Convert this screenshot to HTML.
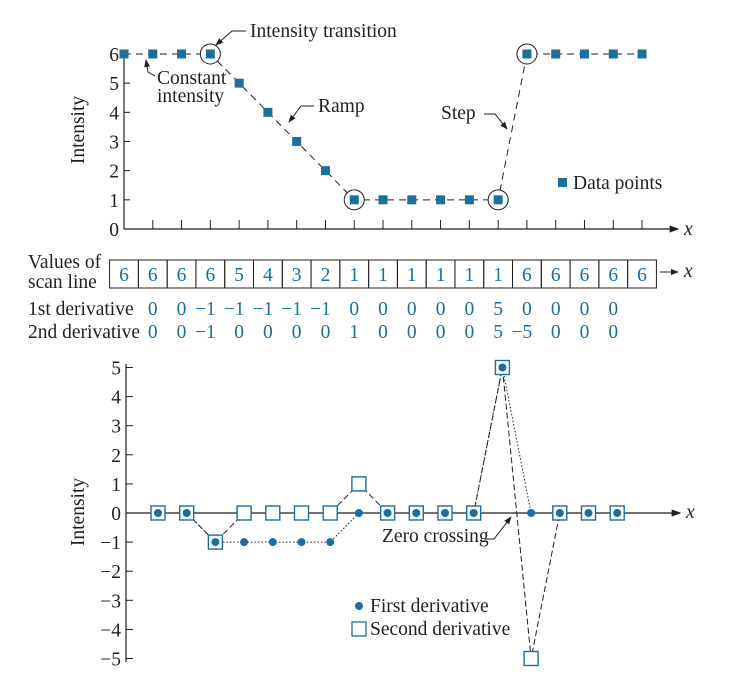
<!DOCTYPE html>
<html><head><meta charset="utf-8"><style>
body{margin:0;background:#fff}
svg{display:block;font-family:"Liberation Serif",serif}
.t{font-size:19.5px;fill:#231f20}
.b{font-size:19.5px;fill:#1a6f9e}
</style></head><body>
<svg id="fig" width="740" height="699" viewBox="0 0 740 699" xmlns="http://www.w3.org/2000/svg">
<defs><marker id="ah" markerWidth="8" markerHeight="6" refX="7" refY="3" orient="auto"><path d="M0,0 L8,3 L0,6 Z" fill="#231f20"/></marker></defs>
<g id="gtop"></g>
<g id="gtable"></g>
<g id="gbot"></g>
<g fill="none" stroke="#231f20" stroke-width="1">
<polyline points="246,31 232,31 216,45" marker-end="url(#ah)"/>
<polyline points="155,76 148,72 146,60" marker-end="url(#ah)"/>
<polyline points="314,106 301,106 289,122" marker-end="url(#ah)"/>
<polyline points="484,114 495,114 507,129" marker-end="url(#ah)"/>
<polyline points="484,539 494,539 511,517" marker-end="url(#ah)"/>
</g>
<text class="t" x="250" y="37">Intensity transition</text>
<text class="t" x="157" y="84">Constant</text>
<text class="t" x="157" y="102">intensity</text>
<text class="t" x="318" y="112">Ramp</text>
<text class="t" x="441" y="119">Step</text>
<rect x="558" y="178" width="9" height="9" fill="#1a6f9e"/>
<text class="t" x="573" y="189">Data points</text>
<text class="t" x="382" y="542">Zero crossing</text>
<circle cx="359" cy="606" r="4" fill="#1a6f9e"/>
<text class="t" x="370" y="612">First derivative</text>
<rect x="352" y="622" width="14" height="14" fill="none" stroke="#1a6f9e" stroke-width="1.3"/>
<text class="t" x="370" y="635">Second derivative</text>
<text class="t" x="84" y="130" transform="rotate(-90 84 130)" text-anchor="middle">Intensity</text>
<text class="t" x="84" y="512" transform="rotate(-90 84 512)" text-anchor="middle">Intensity</text>
<text class="t" x="28" y="268">Values of</text>
<text class="t" x="28" y="288">scan line</text>
<text class="t" x="28" y="315">1st derivative</text>
<text class="t" x="28" y="338">2nd derivative</text>
</svg>
<script>
const scanValues=[6,6,6,6,5,4,3,2,1,1,1,1,1,1,6,6,6,6,6];
const firstDeriv=[0,0,-1,-1,-1,-1,-1,0,0,0,0,0,5,0,0,0,0];
const secondDeriv=[0,0,-1,0,0,0,0,1,0,0,0,0,5,-5,0,0,0];
const topTicks=[0,1,2,3,4,5,6];
const botTicks=[5,4,3,2,1,0,-1,-2,-3,-4,-5];
const circled=[3,8,13,14];

const NS="http://www.w3.org/2000/svg";
const BLUE="#1a6f9e",INK="#231f20";
function mk(parent,tag,attrs,txt){const e=document.createElementNS(NS,tag);for(const k in attrs)e.setAttribute(k,attrs[k]);if(txt!==undefined)e.textContent=txt;parent.appendChild(e);return e;}
const xT=i=>124+28.78*i;
const yT=v=>229-29.17*v;
const xB=i=>158+28.7*i;
const yB=v=>513-29.1*v;

const gTop=document.getElementById('gtop');
let ax=mk(gTop,'line',{x1:124,y1:229,x2:678,y2:229,stroke:INK,'stroke-width':1.2,'marker-end':'url(#ah)'});

let ay=mk(gTop,'line',{x1:124,y1:229,x2:124,y2:50,stroke:INK,'stroke-width':1.2});

let xl=mk(gTop,'text',{x:684,y:235,class:'t','font-style':'italic'},'x');

topTicks.forEach(v=>{
 const t=mk(gTop,'text',{x:119,y:yT(v)+7,class:'t','text-anchor':'end'},String(v));
 
 if(v>0){const l=mk(gTop,'line',{x1:124,y1:yT(v),x2:130,y2:yT(v),stroke:INK});}
});
scanValues.forEach((v,i)=>{if(i>0){const l=mk(gTop,'line',{x1:xT(i),y1:229,x2:xT(i),y2:220,stroke:INK});}});
let pl=mk(gTop,'polyline',{points:scanValues.map((v,i)=>xT(i)+','+yT(v)).join(' '),fill:'none',stroke:INK,'stroke-width':1,'stroke-dasharray':'7,5'});

circled.forEach(i=>{const c=mk(gTop,'circle',{cx:xT(i),cy:yT(scanValues[i]),r:10,fill:'#fff',stroke:INK,'stroke-width':1});});
scanValues.forEach((v,i)=>{const r=mk(gTop,'rect',{x:xT(i)-4.5,y:yT(v)-4.5,width:9,height:9,fill:BLUE});});

const gTab=document.getElementById('gtable');
scanValues.forEach((v,i)=>{
 const r=mk(gTab,'rect',{x:xT(i)-14.4,y:260,width:28.78,height:28,fill:'none',stroke:INK,'stroke-width':1});
 
 const t=mk(gTab,'text',{x:xT(i),y:281,class:'b','text-anchor':'middle'},String(v));
 
});
let ta=mk(gTab,'line',{x1:660,y1:272,x2:678,y2:272,stroke:INK,'marker-end':'url(#ah)'});

let tx=mk(gTab,'text',{x:684,y:277,class:'t','font-style':'italic'},'x');

function drawRow(arr,y,name){arr.forEach((v,k)=>{const x=xT(k+1);
 const t=mk(gTab,'text',{x:v<0?x-5:x,y:y,class:'b','text-anchor':'middle'},v<0?'\u2212'+Math.abs(v):String(v));
 });}
drawRow(firstDeriv,315,'first-derivative-value');
drawRow(secondDeriv,338,'second-derivative-value');

const gBot=document.getElementById('gbot');
let bax=mk(gBot,'line',{x1:126,y1:513,x2:680,y2:513,stroke:INK,'stroke-width':1.2,'marker-end':'url(#ah)'});

let bay=mk(gBot,'line',{x1:126,y1:364,x2:126,y2:662,stroke:INK,'stroke-width':1.2});

let bxl=mk(gBot,'text',{x:686,y:518,class:'t','font-style':'italic'},'x');

botTicks.forEach(v=>{
 const l=mk(gBot,'line',{x1:126,y1:yB(v),x2:133,y2:yB(v),stroke:INK});
 const t=mk(gBot,'text',{x:121,y:yB(v)+7,class:'t','text-anchor':'end'},v<0?'\u2212'+Math.abs(v):String(v));
 
});
let s2=mk(gBot,'polyline',{points:secondDeriv.map((v,i)=>xB(i)+','+yB(v)).join(' '),fill:'none',stroke:INK,'stroke-width':1,'stroke-dasharray':'6,3'});

let s1=mk(gBot,'polyline',{points:firstDeriv.map((v,i)=>xB(i)+','+yB(v)).join(' '),fill:'none',stroke:INK,'stroke-width':1,'stroke-dasharray':'1.5,2'});

secondDeriv.forEach((v,i)=>{const r=mk(gBot,'rect',{x:xB(i)-7,y:yB(v)-7,width:14,height:14,fill:'#fff',stroke:BLUE,'stroke-width':1.4});});
firstDeriv.forEach((v,i)=>{const c=mk(gBot,'circle',{cx:xB(i),cy:yB(v),r:4,fill:BLUE});});
</script>
</body></html>
